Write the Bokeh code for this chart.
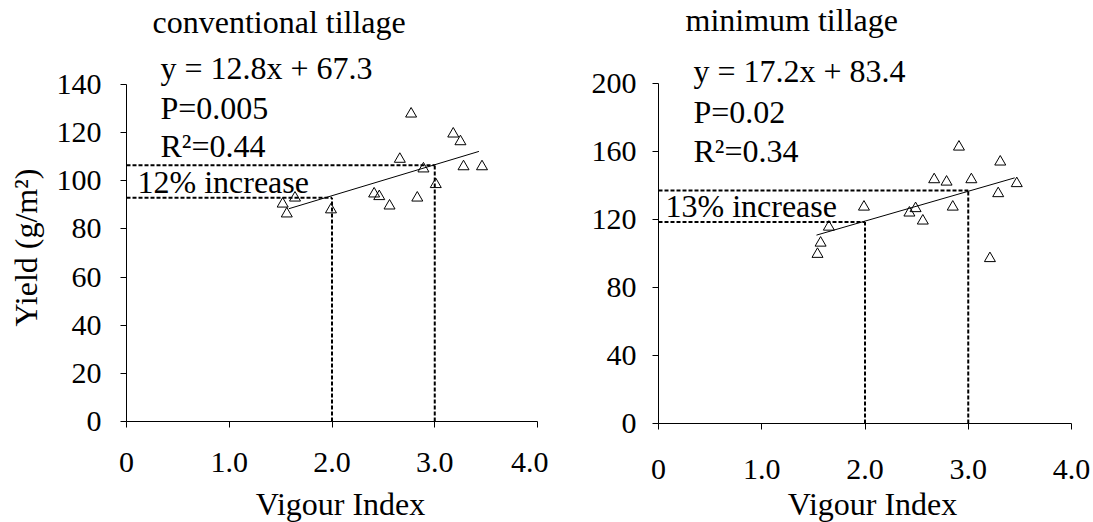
import math
from bokeh.plotting import figure
from bokeh.layouts import row
from bokeh.models import Range1d, FixedTicker, Label
from bokeh.embed import file_html
from bokeh.resources import INLINE

# ---------------- data ----------------
x_ticks = [0, 1, 2, 3, 4]
x_tick_labels = ["0", "1.0", "2.0", "3.0", "4.0"]

conv_title = "conventional tillage"
conv_vigour = [2.77, 3.18, 3.25, 2.66, 2.89, 3.28, 3.46, 3.01,
               1.64, 1.52, 1.56, 1.99, 2.41, 2.46, 2.56, 2.83]
conv_yield = [127.8, 119.5, 116.3, 109.0, 105.0, 105.9, 105.9, 98.5,
              92.9, 90.4, 86.3, 88.0, 94.6, 93.5, 89.6, 92.9]
conv_trend_x = [1.58, 3.43]
conv_trend_y = [88.4, 112.2]
conv_ref_x = [2.0, 3.0]
conv_ref_y = [93.0, 106.5]
conv_y_ticks = [0, 20, 40, 60, 80, 100, 120, 140]
conv_stats = ["y = 12.8x + 67.3", "P=0.005", "R\u00b2=0.44"]
conv_increase = "12% increase"

min_title = "minimum tillage"
min_vigour = [2.91, 3.31, 2.67, 2.79, 3.03, 3.47, 3.29, 2.85,
              1.99, 2.43, 2.49, 2.56, 1.65, 1.57, 1.54, 3.21]
min_yield = [162.7, 153.9, 143.5, 142.1, 143.5, 141.2, 135.3, 127.4,
             127.4, 123.9, 126.5, 119.2, 115.6, 106.2, 99.6, 97.1]
min_trend_x = [1.53, 3.45]
min_trend_y = [110.8, 144.5]
min_ref_x = [2.0, 3.0]
min_ref_y = [118.6, 137.0]
min_y_ticks = [0, 40, 80, 120, 160, 200]
min_stats = ["y = 17.2x + 83.4", "P=0.02", "R\u00b2=0.34"]
min_increase = "13% increase"

x_label = "Vigour Index"
y_label = "Yield (g/m\u00b2)"

FONT = "'Liberation Serif', 'Times New Roman', serif"
TICK_FS = "30px"
TEXT_FS = "32px"
FIG_H = 522
BASE_SHIFT = 12  # text anchor correction (px) for alphabetic baseline


def make_panel(fig_x0, fig_x1, x0_px, x4_px, y0_px, ymax_px, y_max,
               y_ticks, y_standoff, x_standoff):
    """Frame fills the whole figure; axes are drawn at x=0 / y=0."""
    W = fig_x1 - fig_x0
    sx = (x4_px - x0_px) / 4.0
    sy = (y0_px - ymax_px) / float(y_max)
    xr = Range1d((fig_x0 - x0_px) / sx, (fig_x1 - x0_px) / sx)
    yr = Range1d((y0_px - FIG_H) / sy, y0_px / sy)
    p = figure(output_backend="svg", toolbar_location=None,
               width=W, height=FIG_H, min_border=0,
               x_range=xr, y_range=yr)
    p.title.visible = False
    p.outline_line_color = None
    p.grid.visible = False
    p.background_fill_color = "white"
    p.border_fill_color = "white"
    for ax, ticks, bnd in ((p.xaxis[0], x_ticks, (0, 4)),
                           (p.yaxis[0], y_ticks, (0, y_max))):
        ax.ticker = FixedTicker(ticks=ticks)
        ax.fixed_location = 0
        ax.bounds = bnd
        ax.minor_tick_line_color = None
        ax.major_tick_in = 0
        ax.major_tick_out = 6
        ax.axis_line_color = "black"
        ax.major_tick_line_color = "black"
        ax.major_label_text_font = FONT
        ax.major_label_text_font_size = TICK_FS
        ax.major_label_text_color = "black"
    p.xaxis[0].major_label_overrides = {t: l for t, l in zip(x_ticks, x_tick_labels)}
    p.xaxis[0].major_label_standoff = x_standoff
    p.yaxis[0].major_label_standoff = y_standoff

    def add_text(px, py, text, align="left", angle=0.0):
        if angle:
            px -= BASE_SHIFT
        else:
            py -= BASE_SHIFT
        x = (px - x0_px) / sx
        y = (y0_px - py) / sy
        p.add_layout(Label(x=x, y=y, text=text, text_font=FONT,
                           text_font_size=TEXT_FS, text_color="black",
                           text_align=align, text_baseline="alphabetic",
                           angle=angle))
    return p, add_text


def draw_series(p, vig, yld, tx, ty, rx, ry):
    for xv, yv in zip(rx, ry):
        p.line([0, xv], [yv, yv], line_color="black", line_width=2, line_dash="4 2")
        p.line([xv, xv], [0, yv], line_color="black", line_width=2, line_dash="4 2")
    p.line(tx, ty, line_color="black", line_width=1)
    p.scatter(vig, yld, marker="triangle", size=11,
              fill_color=None, line_color="black", line_width=1)


# ---------- left panel ----------
p1, t1 = make_panel(0, 548, 126, 537, 421, 84, 140, conv_y_ticks, 19, 25)
draw_series(p1, conv_vigour, conv_yield, conv_trend_x, conv_trend_y,
            conv_ref_x, conv_ref_y)
t1(152, 33, conv_title)
t1(160, 79, conv_stats[0])
t1(160, 119, conv_stats[1])
t1(160, 157, conv_stats[2])
t1(137, 193, conv_increase)
t1(340, 515, x_label, align="center")
t1(37, 247, y_label, align="center", angle=math.pi / 2)

# ---------- right panel ----------
p2, t2 = make_panel(548, 1090, 658, 1071, 423, 83, 200, min_y_ticks, 16, 30)
draw_series(p2, min_vigour, min_yield, min_trend_x, min_trend_y,
            min_ref_x, min_ref_y)
t2(685, 31, min_title)
t2(693, 82, min_stats[0])
t2(693, 123, min_stats[1])
t2(693, 162, min_stats[2])
t2(665, 217, min_increase)
t2(872, 515, x_label, align="center")

layout = row(p1, p2)
open("out.html", "w").write(file_html(layout, INLINE))
